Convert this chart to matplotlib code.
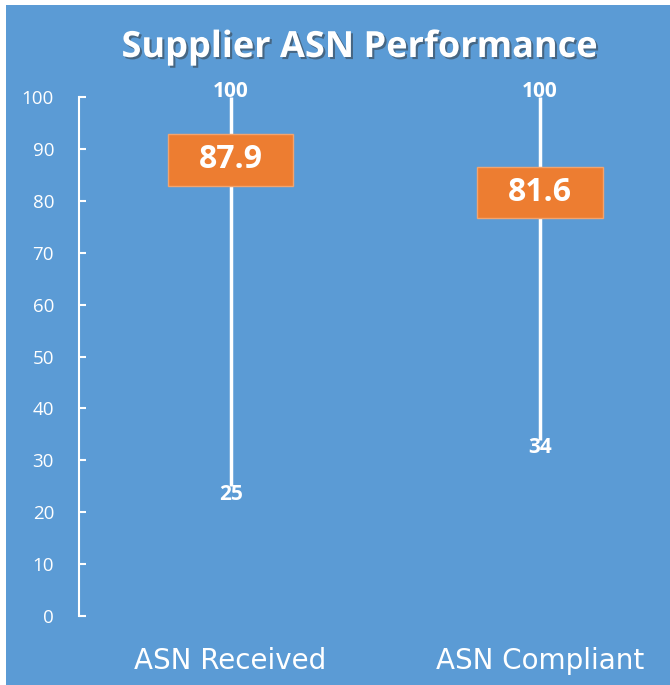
import matplotlib
matplotlib.use("Agg")
import matplotlib.pyplot as plt
import matplotlib.patheffects as pe
from matplotlib.patches import Rectangle

# Data
categories = ["ASN Received", "ASN Compliant"]
high_vals = [100, 100]
low_vals = [25, 34]
values = [87.9, 81.6]
yticks = [0, 10, 20, 30, 40, 50, 60, 70, 80, 90, 100]

blue = "#5B9BD5"
orange = "#ED7D31"

fig = plt.figure(figsize=(6.7, 6.85), dpi=100)
fig.patch.set_facecolor("white")
fig.patches.append(Rectangle((6 / 670, 0), 1, 680 / 685, transform=fig.transFigure,
                             facecolor=blue, edgecolor="none", zorder=-5))

ax = fig.add_axes([79 / 670, 69 / 685, 591 / 670, 519 / 685])
ax.set_facecolor("none")
x = list(range(len(categories)))

# high-low lines
ax.vlines(x, low_vals, high_vals, color="white", lw=2.5, zorder=2)

# value boxes
ax.bar(x, 10, bottom=[v - 5 for v in values], width=0.405, color=orange,
       edgecolor="#F2A46F", linewidth=1, zorder=3)
for xi, v, hi, lo in zip(x, values, high_vals, low_vals):
    ax.text(xi, v, f"{v}", ha="center", va="center", color="white",
            fontsize=23, fontweight="bold", family="Open Sans", zorder=4)
    ax.text(xi, hi + 1, f"{hi}", ha="center", va="center", color="white",
            fontsize=15, fontweight="bold", family="Open Sans", zorder=4)
    ax.text(xi, lo - 1.5, f"{lo}", ha="center", va="center", color="white",
            fontsize=15, fontweight="bold", family="Open Sans", zorder=4)

ax.set_xlim(-0.49, 1.42)
ax.set_ylim(0, 100)
ax.set_yticks(yticks)
ax.set_xticks(x)
ax.set_xticklabels(categories, fontsize=20, color="white", family="DejaVu Sans")
ax.tick_params(axis="x", length=0, pad=22)
ax.tick_params(axis="y", direction="in", length=5, width=1.5, color="white",
               labelcolor="white", labelsize=13.5, pad=18)
for s in ["top", "right", "bottom"]:
    ax.spines[s].set_visible(False)
ax.spines["left"].set_color("white")
ax.spines["left"].set_linewidth(1.5)
for lab in ax.get_yticklabels():
    lab.set_family("Open Sans")

fig.text(360 / 670, 1 - 48 / 685, "Supplier ASN Performance", ha="center", va="center",
         color="white", fontsize=26, fontweight="bold", family="Open Sans",
         path_effects=[pe.withSimplePatchShadow(offset=(1.5, -1.5), shadow_rgbFace="#333333", alpha=0.5)])

fig.savefig("out.png", dpi=100)
